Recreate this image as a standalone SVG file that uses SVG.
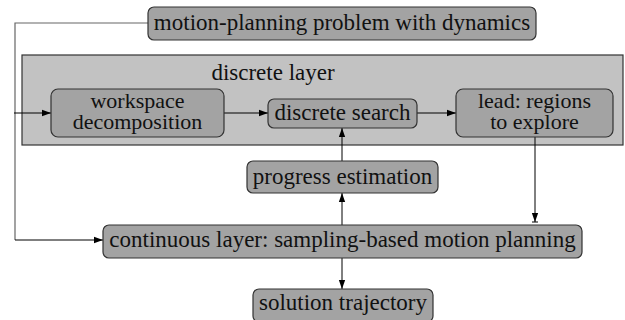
<svg xmlns="http://www.w3.org/2000/svg" width="625" height="320" viewBox="0 0 625 320">
  <defs>
    <marker id="arrow" viewBox="0 0 10 10" refX="10" refY="5" markerWidth="9" markerHeight="9" markerUnits="userSpaceOnUse" orient="auto">
      <path d="M0,1.5 L10,5 L0,8.5 Z" fill="#000"/>
    </marker>
  </defs>
  <style>
    .label { font-family: 'Liberation Serif', serif; }
    .box { fill: #a3a3a3; stroke: #333; stroke-width: 1.2; }
    .layer { fill: #c2c2c2; stroke: #333; stroke-width: 1.2; }
    .wire { fill: none; stroke: #000; stroke-width: 1; }
    .rail { fill: none; stroke: #666; stroke-width: 1.2; }
  </style>
  <rect width="625" height="320" fill="#fff"/>

  <!-- discrete layer container -->
  <g id="discrete-layer">
    <rect class="layer" x="22" y="55" width="601" height="90"/>
    <text class="label" x="273" y="80" font-size="23" fill="#111" text-anchor="middle">discrete layer</text>
  </g>

  <!-- connectors -->
  <g id="connectors">
    <polyline class="rail" points="148,23 15,23 15,240"/>
    <line class="wire" x1="15" y1="240" x2="103" y2="240" marker-end="url(#arrow)"/>
    <line class="wire" x1="14" y1="113" x2="51" y2="113" marker-end="url(#arrow)"/>
    <line class="wire" x1="224" y1="113" x2="268" y2="113" marker-end="url(#arrow)"/>
    <line class="wire" x1="417" y1="113" x2="456" y2="113" marker-end="url(#arrow)"/>
    <line class="wire" x1="342" y1="161" x2="342" y2="128" marker-end="url(#arrow)"/>
    <line class="wire" x1="342" y1="225" x2="342" y2="193" marker-end="url(#arrow)"/>
    <line class="wire" x1="535" y1="137" x2="535" y2="222" marker-end="url(#arrow)"/>
    <line class="wire" x1="532" y1="222" x2="538" y2="222"/>
    <line class="wire" x1="342" y1="258" x2="342" y2="289" marker-end="url(#arrow)"/>
  </g>

  <g id="problem">
    <rect class="box" x="148" y="7" width="388" height="33" rx="6"/>
    <text class="label" x="342" y="30" font-size="23" fill="#111" text-anchor="middle">motion-planning problem with dynamics</text>
  </g>

  <g id="workspace">
    <rect class="box" x="51" y="89" width="173" height="48" rx="7"/>
    <text class="label" x="137.5" y="107.5" font-size="22" fill="#111" text-anchor="middle">workspace</text>
    <text class="label" x="137.5" y="128.5" font-size="22" fill="#111" text-anchor="middle">decomposition</text>
  </g>

  <g id="search">
    <rect class="box" x="268" y="99" width="149" height="29" rx="6"/>
    <text class="label" x="342.5" y="120" font-size="23" fill="#111" text-anchor="middle">discrete search</text>
  </g>

  <g id="lead">
    <rect class="box" x="456" y="89" width="157" height="48" rx="7"/>
    <text class="label" x="534.5" y="107.5" font-size="22" fill="#111" text-anchor="middle">lead: regions</text>
    <text class="label" x="534.5" y="128.5" font-size="22" fill="#111" text-anchor="middle">to explore</text>
  </g>

  <g id="progress">
    <rect class="box" x="247" y="161" width="191" height="32" rx="6"/>
    <text class="label" x="342.5" y="184" font-size="23" fill="#111" text-anchor="middle">progress estimation</text>
  </g>

  <g id="continuous">
    <rect class="box" x="103" y="225" width="479" height="33" rx="6"/>
    <text class="label" x="342.5" y="247" font-size="23" fill="#111" text-anchor="middle">continuous layer: sampling-based motion planning</text>
  </g>

  <g id="solution">
    <rect class="box" x="253" y="289" width="180" height="33" rx="6"/>
    <text class="label" x="343" y="310" font-size="23" fill="#111" text-anchor="middle">solution trajectory</text>
  </g>
</svg>
